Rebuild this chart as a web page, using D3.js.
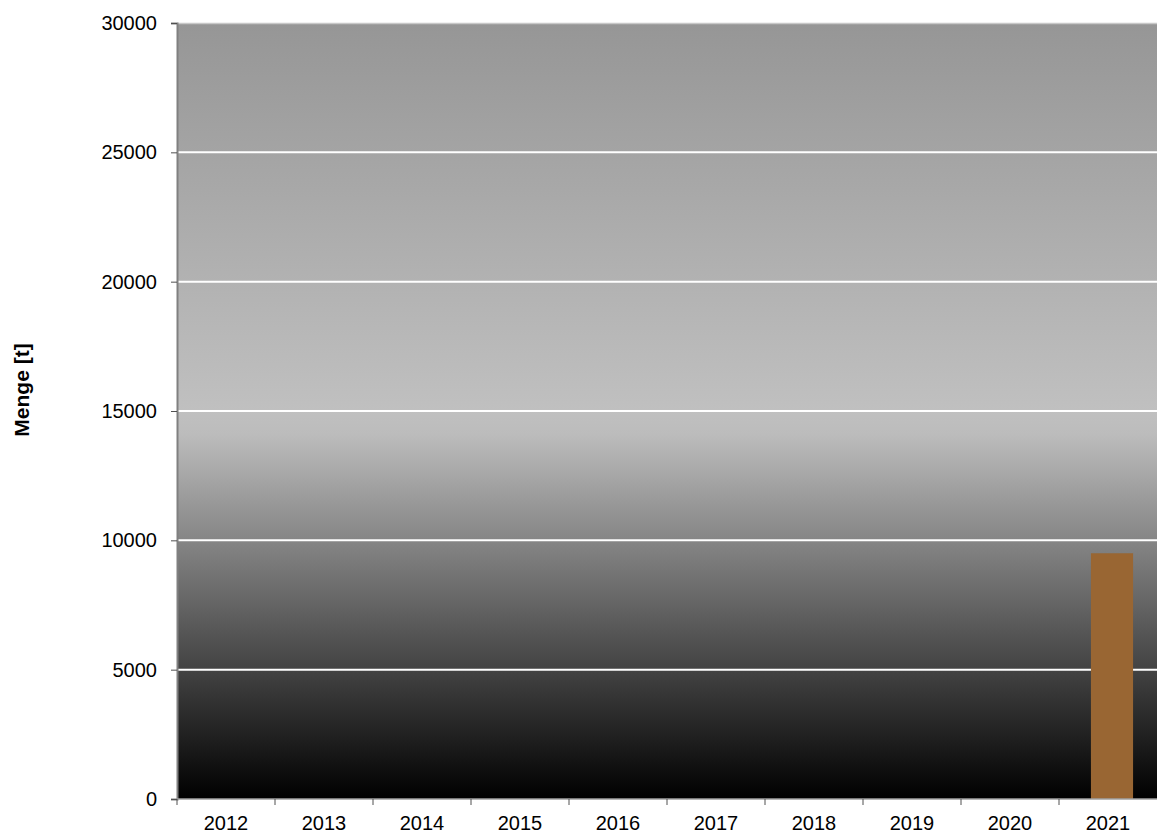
<!DOCTYPE html>
<html>
<head>
<meta charset="utf-8">
<script src="https://cdn.jsdelivr.net/npm/d3@7"></script>
<style>
  html, body { margin: 0; padding: 0; background: #fff; }
  svg { display: block; font-family: "Liberation Sans", Arial, sans-serif; }
</style>
</head>
<body>
<svg id="chart" width="1157" height="834"></svg>
<script>
// Annual quantities in tonnes
const years = ["2012", "2013", "2014", "2015", "2016", "2017", "2018", "2019", "2020", "2021"];
const menge = [0, 0, 0, 0, 0, 0, 0, 0, 0, 9500];
const yTicks = [0, 5000, 10000, 15000, 20000, 25000, 30000];
const yLabel = "Menge [t]";

const svg = d3.select("#chart");
const W = 1157, H = 834;
const m = { left: 177, right: 0, top: 23, bottom: 35 };
const pw = W - m.left - m.right, ph = H - m.top - m.bottom;

// bar scale sits slightly right of the category centre
const x = d3.scaleBand().domain(years).range([m.left + 4, m.left + pw + 4]).paddingInner(0.57).paddingOuter(0.285);
const xb = d3.scaleBand().domain(years).range([m.left, m.left + pw]).padding(0);
const y = d3.scaleLinear().domain([0, 30000]).range([m.top + ph, m.top]);

// plot background gradient
const defs = svg.append("defs");
const grad = defs.append("linearGradient").attr("id", "bg").attr("x1", 0).attr("y1", 0).attr("x2", 0).attr("y2", 1);
[[0, "#969696"], [0.5, "#c0c0c0"], [0.53, "#bcbcbc"], [1, "#000000"]].forEach(([o, c]) =>
  grad.append("stop").attr("offset", o).attr("stop-color", c));

svg.append("rect").attr("x", m.left).attr("y", m.top).attr("width", pw).attr("height", ph).attr("fill", "url(#bg)");

// top border
svg.append("line").attr("x1", m.left).attr("x2", m.left + pw).attr("y1", m.top + 0.5).attr("y2", m.top + 0.5)
  .attr("stroke", "#c8c8c8").attr("stroke-width", 1.5);

// horizontal gridlines
svg.append("g").selectAll("line").data(yTicks.filter(d => d > 0 && d < 30000)).join("line")
  .attr("x1", m.left).attr("x2", m.left + pw)
  .attr("y1", d => y(d)).attr("y2", d => y(d))
  .attr("stroke", "#ffffff").attr("stroke-width", 2);

// bars
svg.append("g").selectAll("rect").data(years.map((yr, i) => ({ yr, v: menge[i] })).filter(d => d.v > 0)).join("rect")
  .attr("x", d => x(d.yr)).attr("width", x.bandwidth())
  .attr("y", d => y(d.v)).attr("height", d => y(0) - y(d.v))
  .attr("fill", "#996633");

// y axis
const yAxis = svg.append("g").attr("transform", `translate(${m.left},0)`)
  .call(d3.axisLeft(y).tickValues(yTicks).tickSize(6).tickPadding(14).tickFormat(d3.format("d")));
yAxis.select(".domain").attr("stroke", "#808080").attr("stroke-width", 2);
yAxis.selectAll(".tick line").attr("stroke", "#505050");
yAxis.selectAll("text").attr("font-size", 20).attr("fill", "#000");

// x axis with ticks at category boundaries
const xg = svg.append("g").attr("transform", `translate(0,${m.top + ph})`);
xg.append("line").attr("x1", m.left).attr("x2", m.left + pw).attr("stroke", "#a0a0a0").attr("stroke-width", 1.5);
xg.selectAll("line.tk").data(years).join("line").attr("class", "tk")
  .attr("x1", d => xb(d)).attr("x2", d => xb(d)).attr("y1", 0).attr("y2", 6)
  .attr("stroke", "#505050");
xg.selectAll("text").data(years).join("text")
  .attr("x", d => xb(d) + xb.bandwidth() / 2).attr("y", 31)
  .attr("text-anchor", "middle").attr("font-size", 20).attr("fill", "#000").text(d => d);

// y axis title
svg.append("text").attr("transform", "translate(29,390) rotate(-90)")
  .attr("text-anchor", "middle").attr("font-size", 21).attr("font-weight", "bold").text(yLabel);
</script>
</body>
</html>
